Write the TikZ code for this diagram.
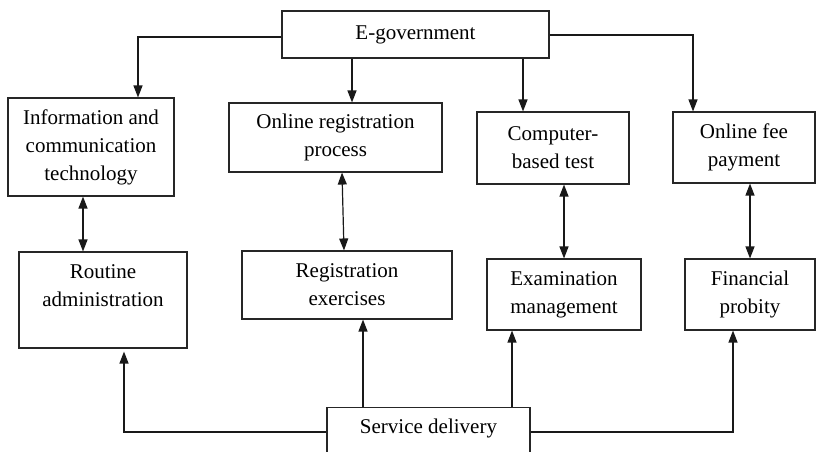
\documentclass[tikz,border=0pt]{standalone}
\usepackage{fontspec}
\setmainfont{Liberation Serif}
\usepackage{tikz}
\usetikzlibrary{arrows.meta}
\tikzset{
    boxnode/.style={
        draw=black!85,
        line width=1.1pt,
        inner sep=0pt,
        align=center,
        font=\fontsize{21}{28}\selectfont
    },
    % arrows between the boxes
    onearrow/.style={
        line width=1.2pt,
        black!90,
        -{Triangle[length=12pt, width=9pt]}
    },
    twoarrow/.style={
        line width=1.2pt,
        black!90,
        {Triangle[length=12pt, width=9pt]}-{Triangle[length=12pt, width=9pt]}
    }
}
\begin{document}
\begin{tikzpicture}[x=1pt,y=-1pt]
    \useasboundingbox (0,0) rectangle (816,451);

    \node[boxnode, minimum width=267, minimum height=47] (egov) at (415.5,34.5) {E-government};

    \node[boxnode, minimum width=166, minimum height=98] (ict) at (91,147) {Information and\\communication\\technology};
    \node[boxnode, minimum width=213, minimum height=69] (onreg) at (335.5,137.5) {Online registration\\process};
    \node[boxnode, minimum width=152, minimum height=72] (cbt) at (553,148) {Computer-\\based test};
    \node[boxnode, minimum width=142, minimum height=71] (fee) at (744,147.5) {Online fee\\payment};

    \node[boxnode, minimum width=168, minimum height=96] (routine) at (103,300) {Routine\\administration\\\mbox{}};
    \node[boxnode, minimum width=210, minimum height=68] (regex) at (347,285) {Registration\\exercises};
    \node[boxnode, minimum width=154, minimum height=71] (exam) at (564,294.5) {Examination\\management};
    \node[boxnode, minimum width=130, minimum height=71] (fin) at (750,294.5) {Financial\\probity};

    \node[boxnode, minimum width=203, anchor=north, inner ysep=6pt, text height=20pt, text depth=40pt] (service) at (428.5,407) {Service delivery};

    \draw[onearrow] ([yshift=-2.5]egov.west) -| ([xshift=47]ict.north);
    \draw[onearrow] ([xshift=16.5]onreg.north |- egov.south) -- ([xshift=16.5]onreg.north);
    \draw[onearrow] ([xshift=-30]cbt.north |- egov.south) -- ([xshift=-30]cbt.north);
    \draw[onearrow] ([yshift=-0.5]egov.east) -| ([xshift=-51]fee.north);

    \draw[twoarrow] ([xshift=-8]ict.south) -- ([xshift=-8]ict.south |- routine.north);
    \draw[twoarrow] ([xshift=6.5]onreg.south) -- ([xshift=-3]regex.north);
    \draw[twoarrow] ([xshift=11]cbt.south) -- (exam.north);
    \draw[twoarrow] (fee.south -| fin.north) -- (fin.north);

    \draw[onearrow, shorten >=3pt] ([yshift=-25]service.north west) -| ([xshift=21]routine.south);
    \draw[onearrow] ([xshift=16]regex.south |- service.north) -- ([xshift=16]regex.south);
    \draw[onearrow] ([xshift=-52]exam.south |- service.north) -- ([xshift=-52]exam.south);
    \draw[onearrow] ([yshift=-25]service.north east) -| ([xshift=-17]fin.south);
\end{tikzpicture}
\end{document}
